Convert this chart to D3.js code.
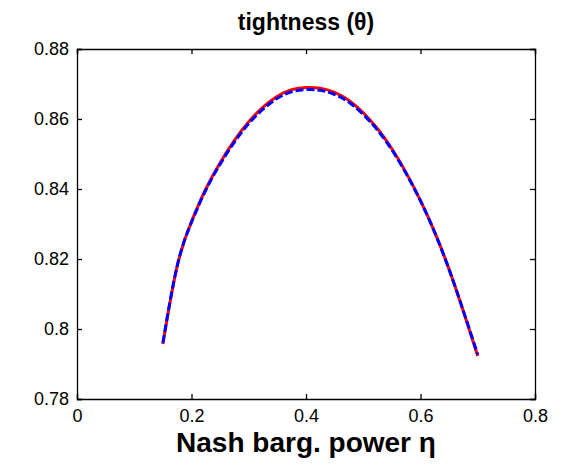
<!DOCTYPE html>
<html>
<head>
<meta charset="utf-8">
<script src="https://cdn.jsdelivr.net/npm/d3@7"></script>
<style>
  body { margin: 0; background: #fff; }
  text { font-family: "Liberation Sans", Arial, sans-serif; fill: #000; }
</style>
</head>
<body>
<script>
// bargaining power grid and tightness values
const eta = [0.15, 0.175, 0.2, 0.225, 0.25, 0.275, 0.3, 0.325, 0.35, 0.375, 0.4,
  0.425, 0.45, 0.475, 0.5, 0.525, 0.55, 0.575, 0.6, 0.625, 0.65, 0.675, 0.7];
const thetaRed = [0.7957, 0.8180, 0.8307, 0.8400, 0.8475, 0.8539, 0.8592, 0.8634, 0.8665, 0.8684, 0.8690,
  0.8688, 0.8676, 0.8653, 0.8618, 0.8572, 0.8515, 0.8446, 0.8367, 0.8276, 0.8170, 0.8050, 0.7923];
const thetaBlue = [0.7960, 0.8180, 0.8305, 0.8397, 0.8471, 0.8534, 0.8587, 0.8628, 0.8659, 0.8678, 0.8684,
  0.8682, 0.8670, 0.8648, 0.8613, 0.8568, 0.8512, 0.8444, 0.8366, 0.8275, 0.8170, 0.8051, 0.7927];
const xTicks = [0, 0.2, 0.4, 0.6, 0.8];
const yTicks = [0.78, 0.8, 0.82, 0.84, 0.86, 0.88];

const W = 561, H = 467;
const margin = {left: 77, right: 26, top: 49, bottom: 68};

const svg = d3.select('body').append('svg')
  .attr('width', W).attr('height', H);

const x = d3.scaleLinear().domain([0, 0.8]).range([margin.left, W - margin.right]);
const y = d3.scaleLinear().domain([0.78, 0.88]).range([H - margin.bottom, margin.top]);

const fmt = d => d === 0 ? '0' : String(+d.toFixed(2));

// axes, ticks pointing inward like matlab
const tickLen = 5;
svg.append('g')
  .attr('transform', `translate(0,${y(0.78)})`)
  .call(d3.axisBottom(x).tickValues(xTicks).tickSize(-tickLen).tickPadding(8).tickFormat(fmt))
  .call(g => g.selectAll('text').attr('font-size', 18).attr('dy', '0.85em'));
svg.append('g')
  .attr('transform', `translate(0,${y(0.88)})`)
  .call(d3.axisTop(x).tickValues(xTicks).tickSize(-tickLen).tickFormat(''));
svg.append('g')
  .attr('transform', `translate(${x(0)},0)`)
  .call(d3.axisLeft(y).tickValues(yTicks).tickSize(-tickLen).tickPadding(8).tickFormat(fmt))
  .call(g => g.selectAll('text').attr('font-size', 18));
svg.append('g')
  .attr('transform', `translate(${x(0.8)},0)`)
  .call(d3.axisRight(y).tickValues(yTicks).tickSize(-tickLen).tickFormat(''));

svg.selectAll('.domain, .tick line').attr('stroke', '#000').attr('stroke-width', 1.3);
svg.selectAll('.tick text').attr('fill', '#000');

const line = d3.line().curve(d3.curveNatural);

svg.append('path')
  .attr('d', line(eta.map((e, i) => [x(e), y(thetaRed[i])])))
  .attr('fill', 'none').attr('stroke', '#ff0000').attr('stroke-width', 3);

svg.append('path')
  .attr('d', line(eta.map((e, i) => [x(e), y(thetaBlue[i])])))
  .attr('fill', 'none').attr('stroke', '#0000ff').attr('stroke-width', 3)
  .attr('stroke-dasharray', '8,3');

// title and label
svg.append('text')
  .attr('x', (x(0) + x(0.8)) / 2).attr('y', 30)
  .attr('text-anchor', 'middle').attr('font-size', 23).attr('font-weight', 'bold')
  .text('tightness (θ)');

svg.append('text')
  .attr('x', (x(0) + x(0.8)) / 2).attr('y', 452)
  .attr('text-anchor', 'middle').attr('font-size', 28).attr('font-weight', 'bold')
  .text('Nash barg. power η');
</script>
</body>
</html>
